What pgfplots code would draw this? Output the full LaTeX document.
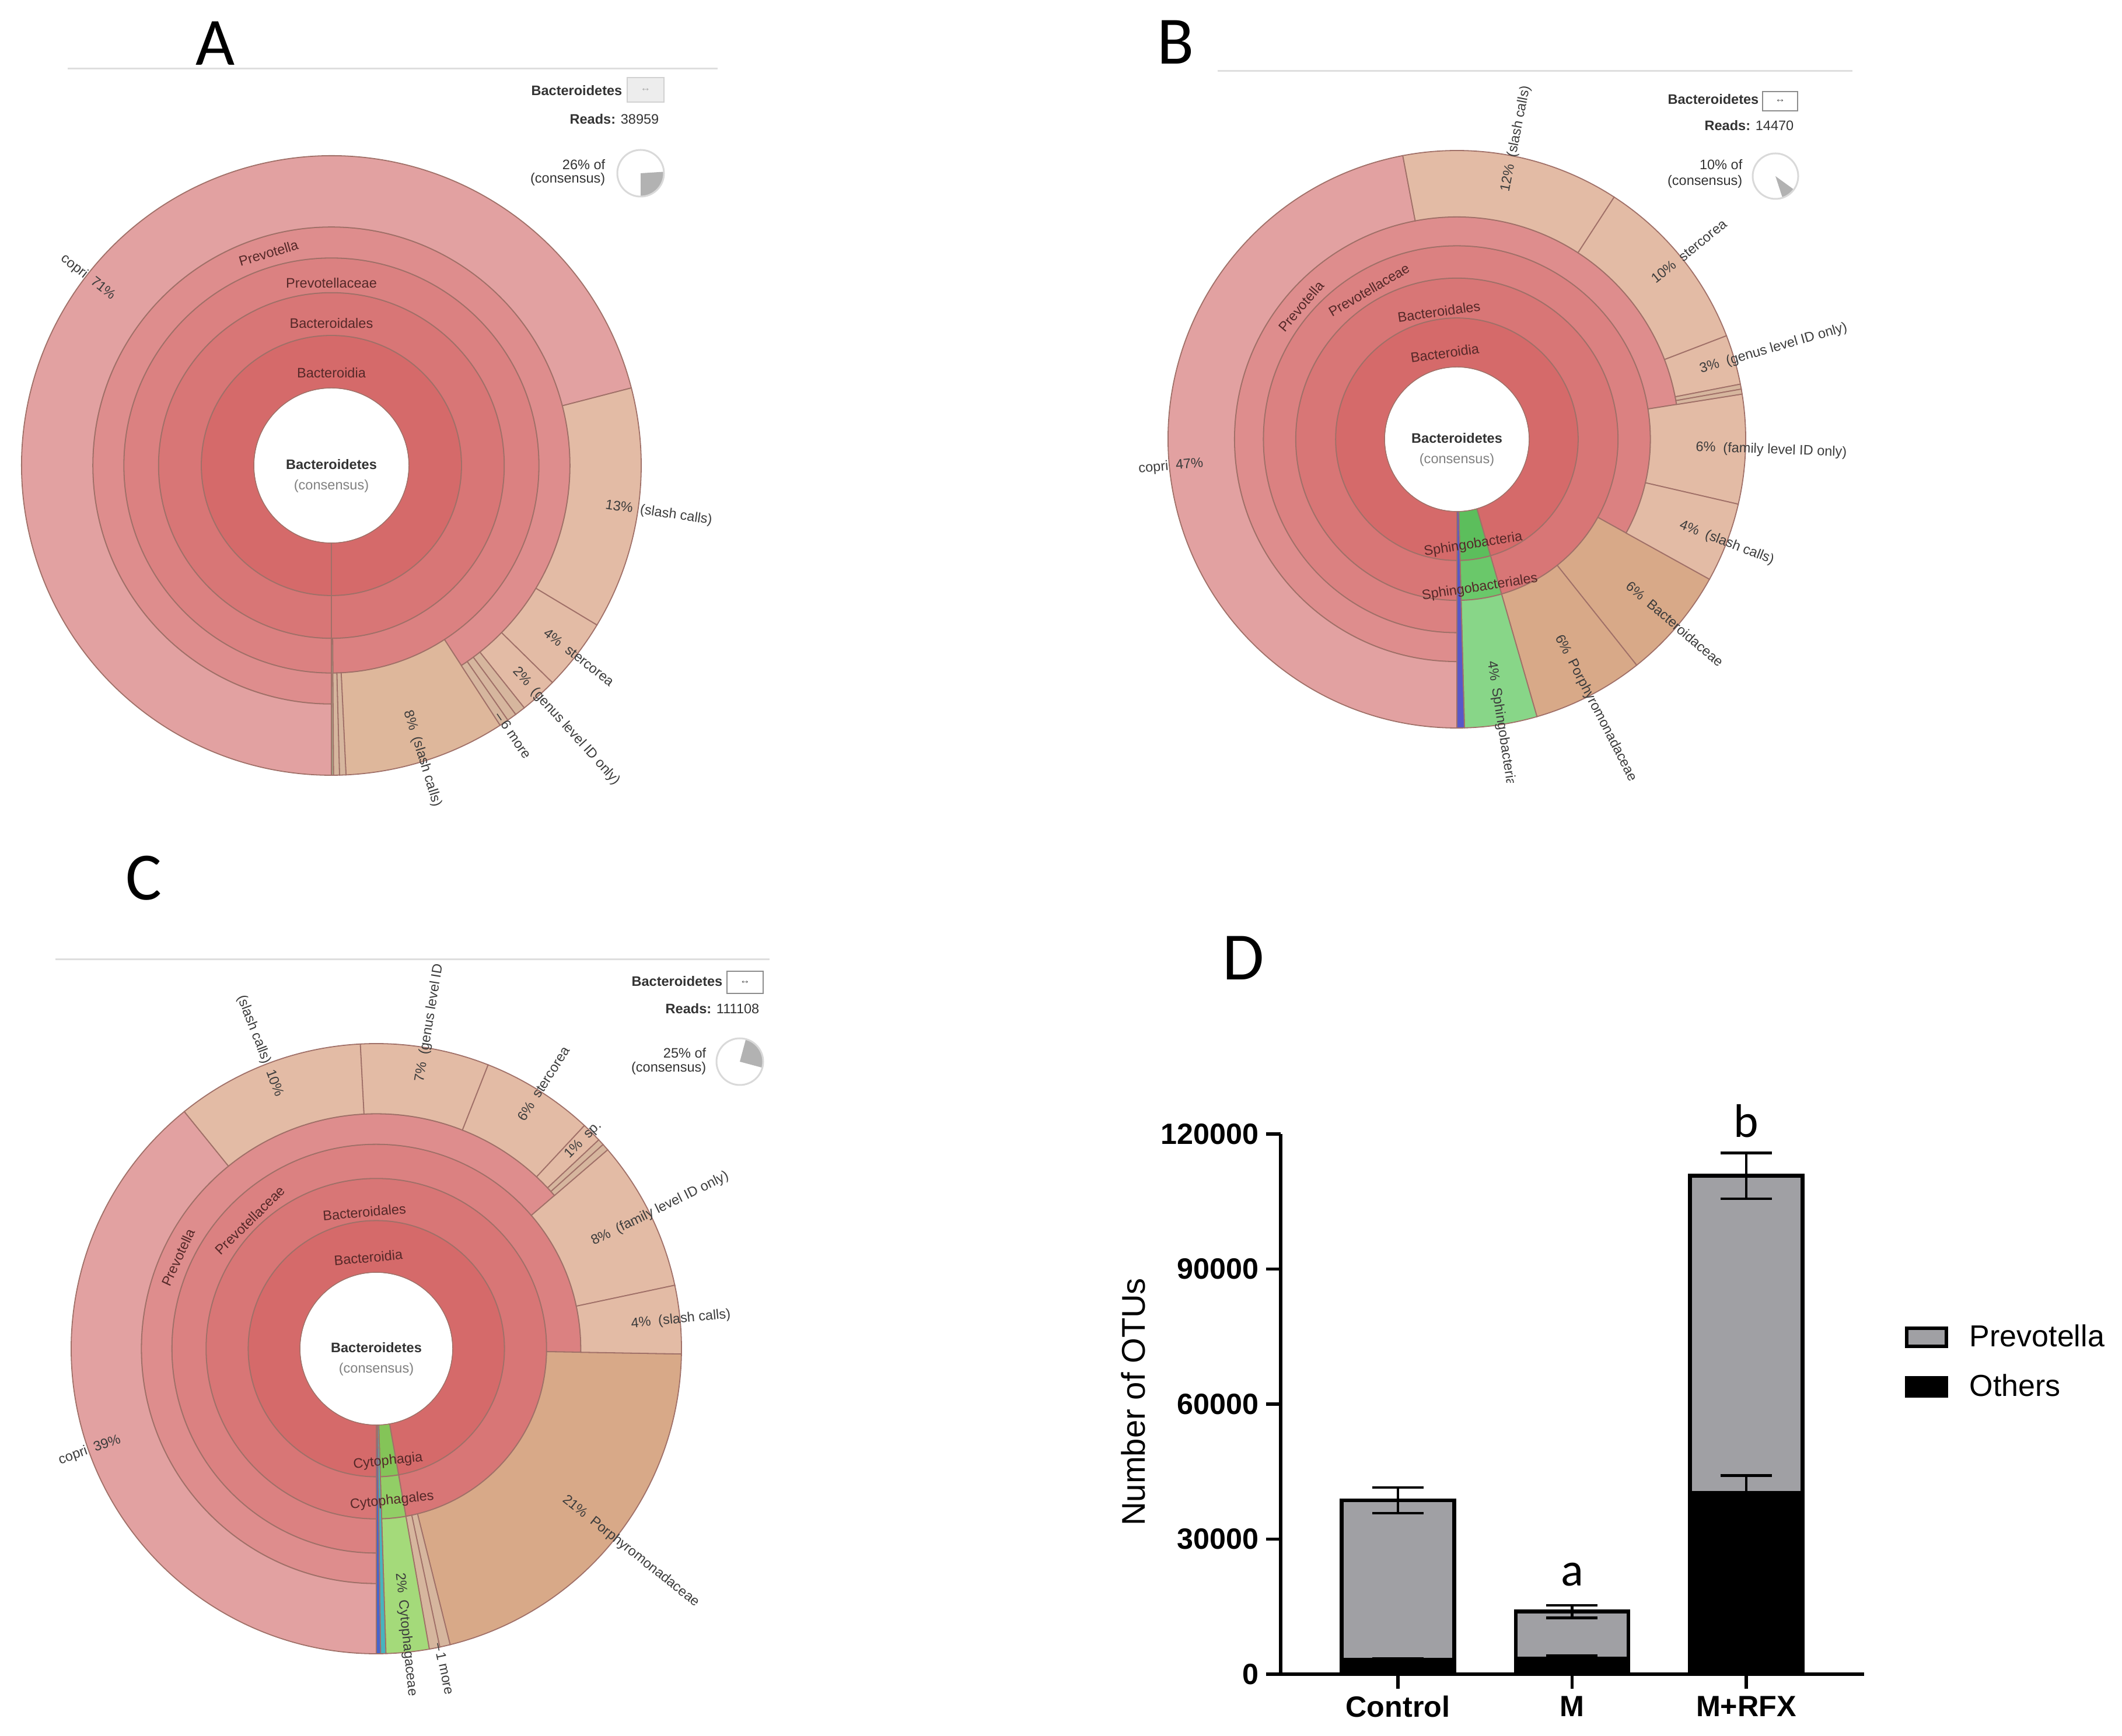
\documentclass[border=0pt]{standalone}
\usepackage{pgfplots}
\pgfplotsset{compat=1.18}
\usepackage{fontspec}
\setmainfont{Liberation Sans}
\newfontfamily\carlito{Carlito}

% krona colours
\definecolor{kLa}{RGB}{213,106,106}
\definecolor{kLb}{RGB}{216,118,118}
\definecolor{kLc}{RGB}{219,129,129}
\definecolor{kLd}{RGB}{222,141,141}
\definecolor{kLe}{RGB}{226,161,161}
\definecolor{kTs}{RGB}{227,187,165}
\definecolor{kTg}{RGB}{222,183,155}
\definecolor{kTf}{RGB}{216,169,136}
\definecolor{kHt}{RGB}{214,182,158}
\definecolor{kSl}{RGB}{165,170,135}
\definecolor{kGa}{RGB}{92,190,92}
\definecolor{kGb}{RGB}{106,200,106}
\definecolor{kGc}{RGB}{136,214,136}
\definecolor{kBl}{RGB}{88,88,200}
\definecolor{kCa}{RGB}{132,196,88}
\definecolor{kCb}{RGB}{146,206,102}
\definecolor{kCc}{RGB}{164,218,122}
\definecolor{kCy}{RGB}{70,180,190}
\definecolor{kBc}{RGB}{70,100,205}
\definecolor{kedge}{RGB}{160,112,104}
\definecolor{kring}{RGB}{85,40,40}
\definecolor{ktxt}{RGB}{60,60,60}
\definecolor{barGray}{RGB}{160,160,164}

\newcommand\kfont{\fontsize{6.7}{8}\selectfont}
\newcommand\kgap{\hspace{0.55em}}
% wedge: radius R (cm), start, end (deg clockwise from bottom), inner, outer (fraction of R), colour
\newcommand\kw[6]{\filldraw[fill=#6, draw=kedge, line width=0.018cm]
  ({-90-(#2)}:{#4*#1cm}) arc[start angle={-90-(#2)}, end angle={-90-(#3)}, radius={#4*#1cm}]
  -- ({-90-(#3)}:{#5*#1cm}) arc[start angle={-90-(#3)}, end angle={-90-(#2)}, radius={#5*#1cm}] -- cycle;}
% outer label: anchor, angle, radius (cm), rotation, text
\newcommand\klab[5]{\node[anchor=#1, rotate=#4, inner sep=0pt, text=ktxt, font=\kfont] at ({#2}:{#3cm}) {#5};}
% ring label: angle, radius (cm), rotation, text
\newcommand\krl[4]{\node[rotate=#3, inner sep=0pt, text=kring, font=\kfont] at ({#1}:{#2cm}) {#4};}
\newcommand\kcenter{%
  \node[inner sep=0pt, font=\kfont\bfseries, text=black!80] at (90:0.02cm) {Bacteroidetes};
  \node[inner sep=0pt, font=\kfont, text=black!50] at (-90:0.35cm) {(consensus)};}

\begin{document}
\begin{tikzpicture}
\useasboundingbox (0,0) rectangle (36.37,29.75);

\begin{axis}[at={(0,0)}, anchor=south west, x=1cm, y=1cm,
  xmin=0, xmax=36.37, ymin=0, ymax=29.75, hide axis, clip=false]

% panel letters
\node[font=\carlito\fontsize{33}{36}\selectfont, anchor=base] at (axis cs:3.69,28.63) {A};
\node[font=\carlito\fontsize{33}{36}\selectfont, anchor=base] at (axis cs:20.15,28.65) {B};
\node[font=\carlito\fontsize{33}{36}\selectfont, anchor=base] at (axis cs:2.46,14.32) {C};
\node[font=\carlito\fontsize{33}{36}\selectfont, anchor=base] at (axis cs:21.31,12.95) {D};

% krona header lines
\draw[black!13, line width=0.03cm] (axis cs:1.16,28.57) -- (axis cs:12.30,28.57);
\draw[black!13, line width=0.03cm] (axis cs:20.87,28.53) -- (axis cs:31.75,28.53);
\draw[black!13, line width=0.03cm] (axis cs:0.95,13.30) -- (axis cs:13.19,13.30);

% ---------------- A ----------------
\node[anchor=base east, inner sep=0pt, font=\kfont\bfseries, text=black!80] at (axis cs:10.67,28.11) {Bacteroidetes};
\filldraw[fill=black!7, draw=black!18, line width=0.015cm] (axis cs:10.75,28.00) rectangle (axis cs:11.38,28.42);
\node[font=\fontsize{5}{6}\selectfont, text=black!35] at (axis cs:11.065,28.21) {↔};
\node[anchor=base east, inner sep=0pt, font=\kfont, text=black!80] at (axis cs:11.30,27.62) {\textbf{Reads:} 38959};
\node[anchor=base east, inner sep=0pt, font=\kfont, text=black!80] at (axis cs:10.38,26.84) {26\% of};
\node[anchor=base east, inner sep=0pt, font=\kfont, text=black!80] at (axis cs:10.38,26.61) {(consensus)};
\fill[black!30] (axis cs:10.98,26.78) -- +(3.6:0.40cm) arc[start angle=3.6, end angle=-90, radius=0.40cm] -- cycle;
\draw[black!15, line width=0.03cm] (axis cs:10.98,26.78) circle[radius=0.40cm];

\begin{scope}[shift={(axis cs:5.68,21.77)}]
\kw{5.31}{0}{360}{0.25}{0.42}{kLa}
\kw{5.31}{0}{360}{0.42}{0.558}{kLb}
\kw{5.31}{0}{359.6}{0.558}{0.67}{kLc}
\kw{5.31}{359.6}{360}{0.558}{1}{kSl}
\kw{5.31}{0}{327}{0.67}{0.77}{kLd}
\kw{5.31}{327}{357.3}{0.67}{1}{kTg}
\kw{5.31}{357.3}{358.5}{0.67}{1}{kHt}
\kw{5.31}{358.5}{359.6}{0.67}{1}{kHt}
\kw{5.31}{0}{255.5}{0.77}{1}{kLe}
\kw{5.31}{255.5}{301}{0.77}{1}{kTs}
\kw{5.31}{301}{314.5}{0.77}{1}{kTs}
\kw{5.31}{314.5}{321.5}{0.77}{1}{kTs}
\kw{5.31}{321.5}{323.5}{0.77}{1}{kHt}
\kw{5.31}{323.5}{325.3}{0.77}{1}{kHt}
\kw{5.31}{325.3}{327}{0.77}{1}{kHt}
\fill[white] (0,0) circle[radius=1.32cm];
\kcenter
\krl{90}{1.59}{0}{Bacteroidia}
\krl{90}{2.44}{0}{Bacteroidales}
\krl{90}{3.13}{0}{Prevotellaceae}
\krl{106.5}{3.80}{16.5}{Prevotella}
\klab{east}{142.25}{4.71}{-37.75}{copri\kgap 71\%}
\klab{west}{-8.25}{4.74}{-8.25}{13\%\kgap (slash calls)}
\klab{west}{-37.75}{4.64}{-37.75}{4\%\kgap stercorea}
\klab{west}{-48}{4.70}{-48}{2\%\kgap (genus level ID only)}
\klab{west}{-56}{5.12}{-56}{--\,6 more}
\klab{west}{-72.75}{4.40}{-72.75}{8\%\kgap (slash calls)}
\end{scope}

% ---------------- B ----------------
\node[anchor=base east, inner sep=0pt, font=\kfont\bfseries, text=black!80] at (axis cs:30.15,27.96) {Bacteroidetes};
\filldraw[fill=white, draw=black!45, line width=0.015cm] (axis cs:30.21,27.85) rectangle (axis cs:30.81,28.18);
\node[font=\fontsize{5}{6}\selectfont, text=black!70] at (axis cs:30.51,28.015) {↔};
\node[anchor=base east, inner sep=0pt, font=\kfont, text=black!80] at (axis cs:30.75,27.51) {\textbf{Reads:} 14470};
\node[anchor=base east, inner sep=0pt, font=\kfont, text=black!80] at (axis cs:29.87,26.84) {10\% of};
\node[anchor=base east, inner sep=0pt, font=\kfont, text=black!80] at (axis cs:29.87,26.57) {(consensus)};
\fill[black!30] (axis cs:30.43,26.73) -- +(-36:0.39cm) arc[start angle=-36, end angle=-72, radius=0.39cm] -- cycle;
\draw[black!15, line width=0.03cm] (axis cs:30.43,26.73) circle[radius=0.39cm];

\begin{scope}
\clip (axis cs:18,16.33) rectangle (axis cs:36.37,29.75);
\begin{scope}[shift={(axis cs:24.97,22.22)}]
\kw{4.95}{0}{343.9}{0.25}{0.42}{kLa}
\kw{4.95}{343.9}{358.5}{0.25}{0.42}{kGa}
\kw{4.95}{0}{343.9}{0.42}{0.558}{kLb}
\kw{4.95}{343.9}{358.5}{0.42}{0.558}{kGb}
\kw{4.95}{0}{299}{0.558}{0.67}{kLc}
\kw{4.95}{299}{321.5}{0.558}{1}{kTf}
\kw{4.95}{321.5}{343.9}{0.558}{1}{kTf}
\kw{4.95}{343.9}{358.5}{0.558}{1}{kGc}
\kw{4.95}{358.5}{360}{0.25}{1}{kBl}
\kw{4.95}{0}{261}{0.67}{0.77}{kLd}
\kw{4.95}{261}{283}{0.67}{1}{kTs}
\kw{4.95}{283}{299}{0.67}{1}{kTs}
\kw{4.95}{0}{169.2}{0.77}{1}{kLe}
\kw{4.95}{169.2}{213}{0.77}{1}{kTs}
\kw{4.95}{213}{249}{0.77}{1}{kTs}
\kw{4.95}{249}{259}{0.77}{1}{kTs}
\kw{4.95}{259}{260}{0.77}{1}{kHt}
\kw{4.95}{260}{261}{0.77}{1}{kHt}
\fill[white] (0,0) circle[radius=1.23cm];
\kcenter
\krl{98}{1.49}{8}{Bacteroidia}
\krl{98}{2.21}{8}{Bacteroidales}
\krl{120.5}{2.97}{30.5}{Prevotellaceae}
\krl{139.5}{3.51}{49.5}{Prevotella}
\krl{-81.2}{1.83}{8.8}{Sphingobacteria}
\krl{-81.2}{2.57}{8.8}{Sphingobacteriales}
\klab{east}{185.4}{4.36}{5.4}{copri\kgap 47\%}
\klab{west}{78.9}{4.32}{78.9}{12\%\kgap (slash calls)}
\klab{west}{39}{4.32}{39}{10\%\kgap stercorea}
\klab{west}{16}{4.33}{16}{3\%\kgap (genus level ID only)}
\klab{west}{-2}{4.09}{-2}{6\%\kgap (family level ID only)}
\klab{west}{-21}{4.09}{-21}{4\%\kgap (slash calls)}
\klab{west}{-40.25}{3.84}{-40.25}{6\%\kgap Bacteroidaceae}
\klab{west}{-62.7}{3.79}{-62.7}{6\%\kgap Porphyromonadaceae}
\klab{west}{-81.2}{3.84}{-81.2}{4\%\kgap Sphingobacteriaceae}
\end{scope}
\end{scope}

% ---------------- C ----------------
\node[anchor=base east, inner sep=0pt, font=\kfont\bfseries, text=black!80] at (axis cs:12.39,12.84) {Bacteroidetes};
\filldraw[fill=white, draw=black!45, line width=0.015cm] (axis cs:12.46,12.72) rectangle (axis cs:13.08,13.10);
\node[font=\fontsize{5}{6}\selectfont, text=black!70] at (axis cs:12.77,12.91) {↔};
\node[anchor=base east, inner sep=0pt, font=\kfont, text=black!80] at (axis cs:13.02,12.37) {\textbf{Reads:} 111108};
\node[anchor=base east, inner sep=0pt, font=\kfont, text=black!80] at (axis cs:12.11,11.61) {25\% of};
\node[anchor=base east, inner sep=0pt, font=\kfont, text=black!80] at (axis cs:12.11,11.37) {(consensus)};
\fill[black!30] (axis cs:12.68,11.55) -- +(75:0.40cm) arc[start angle=75, end angle=-15, radius=0.40cm] -- cycle;
\draw[black!15, line width=0.03cm] (axis cs:12.68,11.55) circle[radius=0.40cm];

\begin{scope}
\clip (axis cs:0,0) rectangle (axis cs:18,13.28);
\begin{scope}[shift={(axis cs:6.45,6.63)}]
\kw{5.23}{0}{350}{0.25}{0.42}{kLa}
\kw{5.23}{350}{358.2}{0.25}{0.42}{kCa}
\kw{5.23}{0}{350}{0.42}{0.558}{kLb}
\kw{5.23}{350}{358.2}{0.42}{0.558}{kCb}
\kw{5.23}{0}{271}{0.558}{0.67}{kLc}
\kw{5.23}{271}{346}{0.558}{1}{kTf}
\kw{5.23}{346}{348}{0.558}{1}{kHt}
\kw{5.23}{348}{350}{0.558}{1}{kHt}
\kw{5.23}{350}{358.2}{0.558}{1}{kCc}
\kw{5.23}{358.2}{359.2}{0.25}{1}{kCy}
\kw{5.23}{359.2}{360}{0.25}{1}{kBc}
\kw{5.23}{0}{229.3}{0.67}{0.77}{kLd}
\kw{5.23}{229.3}{258}{0.67}{1}{kTs}
\kw{5.23}{258}{271}{0.67}{1}{kTs}
\kw{5.23}{0}{141}{0.77}{1}{kLe}
\kw{5.23}{141}{177}{0.77}{1}{kTs}
\kw{5.23}{177}{201.5}{0.77}{1}{kTs}
\kw{5.23}{201.5}{223}{0.77}{1}{kTs}
\kw{5.23}{223}{226.8}{0.77}{1}{kTs}
\kw{5.23}{226.8}{228}{0.77}{1}{kHt}
\kw{5.23}{228}{229.3}{0.77}{1}{kHt}
\fill[white] (0,0) circle[radius=1.30cm];
\kcenter
\krl{95}{1.57}{5}{Bacteroidia}
\krl{95}{2.35}{5}{Bacteroidales}
\krl{134.5}{3.09}{44.5}{Prevotellaceae}
\krl{155.25}{3.74}{65.25}{Prevotella}
\krl{-84.1}{1.94}{5.9}{Cytophagia}
\krl{-84.1}{2.62}{5.9}{Cytophagales}
\klab{east}{199.5}{4.65}{19.5}{copri\kgap 39\%}
\klab{east}{111}{4.63}{-69}{(slash calls)\kgap 10\%}
\klab{west}{80.75}{4.63}{80.75}{7\%\kgap (genus level ID only)}
\klab{west}{57.75}{4.64}{57.75}{6\%\kgap stercorea}
\klab{west}{45.2}{4.64}{45.2}{1\%\kgap sp.}
\klab{west}{26.25}{4.12}{26.25}{8\%\kgap (family level ID only)}
\klab{west}{5.5}{4.38}{5.5}{4\%\kgap (slash calls)}
\klab{west}{-38.5}{4.11}{-38.5}{21\%\kgap Porphyromonadaceae}
\klab{west}{-84.1}{3.86}{-84.1}{2\%\kgap Cytophagaceae}
\klab{west}{-78}{5.15}{-78}{--\,1 more}
\end{scope}
\end{scope}
\end{axis}

% ---------------- D ----------------
\begin{axis}[
  at={(21.95cm,1.05cm)}, anchor=south west,
  scale only axis, width=10cm, height=9.26cm,
  ybar stacked, bar width=1.93cm,
  xmin=-0.673, xmax=2.677, ymin=0, ymax=120000,
  enlargelimits=false, clip=false,
  axis lines=left, axis line style={-, line width=1.6pt},
  tick align=outside, major tick length=0.25cm,
  tick style={black, line width=1.6pt},
  xtick={0,1,2}, xticklabels={Control,M,M+RFX},
  ytick={0,30000,60000,90000,120000},
  yticklabels={0,30000,60000,90000,120000},
  scaled y ticks=false,
  ticklabel style={font=\fontsize{14.3}{17}\selectfont\bfseries},
  ylabel={Number of OTUs},
  ylabel style={at={(axis description cs:-0.253,0.504)}, anchor=center,
    font=\fontsize{16}{19}\selectfont},
  reverse legend,
  legend cell align=left,
  legend style={at={(axis description cs:1.069,0.578)}, anchor=west,
    draw=none, fill=none, inner sep=0pt, row sep=0.42cm,
    font=\fontsize{14.8}{17}\selectfont, nodes={inner sep=0pt}},
  legend image code/.code={\path[draw=none, fill=none] (0,0) -- (1.11cm,0);
    \draw[#1, line width=1.6pt] (0.03cm,-0.155cm) rectangle (0.71cm,0.155cm);},
]
\addplot[fill=black, draw=black, line width=1.9pt] coordinates {(0,3200) (1,3500) (2,40200)};
\addlegendentry{Others}
\addplot[fill=barGray, draw=black, line width=1.9pt] coordinates {(0,35400) (1,10400) (2,70500)};
\addlegendentry{Prevotella}
\node[font=\carlito\fontsize{23}{26}\selectfont] at (axis cs:1,22200) {a};
\node[font=\carlito\fontsize{23}{26}\selectfont] at (axis cs:2,122900) {b};
\end{axis}

% error bars, drawn over the stacks
\begin{axis}[
  at={(21.95cm,1.05cm)}, anchor=south west,
  scale only axis, width=10cm, height=9.26cm,
  xmin=-0.673, xmax=2.677, ymin=0, ymax=120000,
  hide axis, clip=false]
\addplot[draw=none, mark=none, forget plot,
  error bars/.cd, y dir=both, y explicit,
  error bar style={draw=black, line width=1.3pt},
  error mark options={rotate=90, draw=black, line width=1.3pt, mark size=0.44cm}]
  coordinates {(0,38600) +- (0,2850) (1,13900) +- (0,1400) (2,110700) +- (0,5100)};
\addplot[draw=none, mark=none, forget plot,
  error bars/.cd, y dir=both, y explicit,
  error bar style={draw=black, line width=1.3pt},
  error mark options={rotate=90, draw=black, line width=1.3pt, mark size=0.44cm}]
  coordinates {(0,3200) +- (0,300) (1,3500) +- (0,600) (2,40200) +- (0,3900)};
\end{axis}
\end{tikzpicture}
\end{document}
